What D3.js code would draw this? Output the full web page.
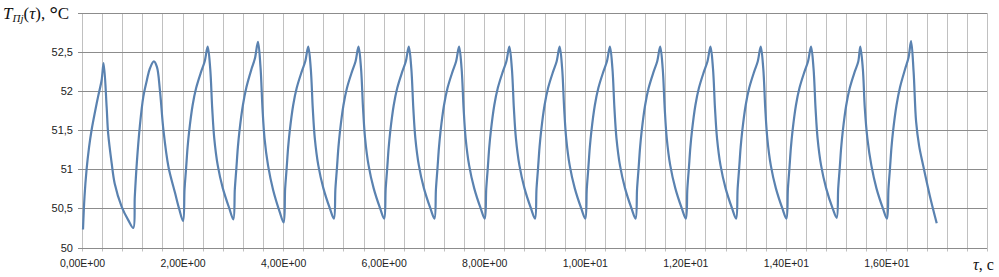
<!DOCTYPE html>
<html>
<head>
<meta charset="utf-8">
<script src="https://cdn.jsdelivr.net/npm/d3@7"></script>
<style>
  body { margin: 0; background: #fff; }
  svg { display: block; }
</style>
</head>
<body>
<div id="chart"></div>
<script>
// temperature T(tau), points: [tau, T]
let cycle0 = [[0.02,50.23],[0.05,50.65],[0.09,50.99],[0.14,51.28],[0.19,51.50],[0.26,51.74],[0.32,51.93],[0.39,52.14],[0.43,52.36],[0.49,51.80],[0.52,51.46],[0.59,51.08],[0.65,50.82],[0.79,50.52],[0.92,50.35]];
let cycle1 = [[1.02,50.25],[1.05,50.65],[1.09,51.08],[1.15,51.55],[1.22,51.93],[1.29,52.14],[1.35,52.29],[1.43,52.38],[1.49,52.31],[1.55,52.01],[1.62,51.50],[1.72,51.03],[1.85,50.70],[1.93,50.50]];
let cycle2 = [[2.01,50.34],[2.04,50.75],[2.07,51.01],[2.10,51.28],[2.13,51.48],[2.20,51.82],[2.27,52.04],[2.37,52.25],[2.44,52.38],[2.50,52.57],[2.55,52.29],[2.59,51.78],[2.63,51.40],[2.70,51.05],[2.80,50.76],[2.93,50.50]];
let cycle3 = [[3.01,50.36],[3.04,50.75],[3.07,51.01],[3.10,51.28],[3.13,51.48],[3.20,51.82],[3.27,52.05],[3.37,52.28],[3.44,52.42],[3.50,52.63],[3.55,52.31],[3.59,51.78],[3.63,51.40],[3.70,51.05],[3.80,50.74],[3.93,50.46]];
let cycle4 = [[4.01,50.32],[4.04,50.75],[4.07,51.01],[4.10,51.28],[4.13,51.48],[4.20,51.82],[4.27,52.04],[4.37,52.25],[4.44,52.38],[4.50,52.57],[4.55,52.29],[4.59,51.78],[4.63,51.40],[4.70,51.05],[4.80,50.76],[4.93,50.50]];
let cycle5 = [[5.01,50.37],[5.04,50.75],[5.07,51.01],[5.10,51.28],[5.13,51.48],[5.20,51.82],[5.27,52.04],[5.37,52.25],[5.44,52.38],[5.50,52.57],[5.55,52.29],[5.59,51.78],[5.63,51.40],[5.70,51.05],[5.80,50.76],[5.93,50.50]];
let cycle6 = [[6.01,50.37],[6.04,50.75],[6.07,51.01],[6.10,51.28],[6.13,51.48],[6.20,51.82],[6.27,52.04],[6.37,52.25],[6.44,52.38],[6.50,52.57],[6.55,52.29],[6.59,51.78],[6.63,51.40],[6.70,51.05],[6.80,50.76],[6.93,50.50]];
let cycle7 = [[7.01,50.37],[7.04,50.75],[7.07,51.01],[7.10,51.28],[7.13,51.48],[7.20,51.82],[7.27,52.04],[7.37,52.25],[7.44,52.38],[7.50,52.57],[7.55,52.29],[7.59,51.78],[7.63,51.40],[7.70,51.05],[7.80,50.76],[7.93,50.50]];
let cycle8 = [[8.01,50.37],[8.04,50.75],[8.07,51.01],[8.10,51.28],[8.13,51.48],[8.20,51.82],[8.27,52.04],[8.37,52.25],[8.44,52.38],[8.50,52.57],[8.55,52.29],[8.59,51.78],[8.63,51.40],[8.70,51.05],[8.80,50.76],[8.93,50.50]];
let cycle9 = [[9.01,50.37],[9.04,50.75],[9.07,51.01],[9.10,51.28],[9.13,51.48],[9.20,51.82],[9.27,52.04],[9.37,52.25],[9.44,52.38],[9.50,52.57],[9.55,52.29],[9.59,51.78],[9.63,51.40],[9.70,51.05],[9.80,50.76],[9.93,50.50]];
let cycle10 = [[10.01,50.37],[10.04,50.75],[10.07,51.01],[10.10,51.28],[10.13,51.48],[10.20,51.82],[10.27,52.04],[10.37,52.25],[10.44,52.38],[10.50,52.57],[10.55,52.29],[10.59,51.78],[10.63,51.40],[10.70,51.05],[10.80,50.76],[10.93,50.50]];
let cycle11 = [[11.01,50.37],[11.04,50.75],[11.07,51.01],[11.10,51.28],[11.13,51.48],[11.20,51.82],[11.27,52.04],[11.37,52.25],[11.44,52.38],[11.50,52.57],[11.55,52.29],[11.59,51.78],[11.63,51.40],[11.70,51.05],[11.80,50.76],[11.93,50.50]];
let cycle12 = [[12.01,50.37],[12.04,50.75],[12.07,51.01],[12.10,51.28],[12.13,51.48],[12.20,51.82],[12.27,52.04],[12.37,52.25],[12.44,52.38],[12.50,52.57],[12.55,52.29],[12.59,51.78],[12.63,51.40],[12.70,51.05],[12.80,50.76],[12.93,50.50]];
let cycle13 = [[13.01,50.37],[13.04,50.75],[13.07,51.01],[13.10,51.28],[13.13,51.48],[13.20,51.82],[13.27,52.04],[13.37,52.25],[13.44,52.38],[13.50,52.57],[13.55,52.29],[13.59,51.78],[13.63,51.40],[13.70,51.05],[13.80,50.76],[13.93,50.50]];
let cycle14 = [[14.01,50.37],[14.04,50.75],[14.07,51.01],[14.10,51.28],[14.13,51.48],[14.20,51.82],[14.27,52.04],[14.37,52.25],[14.44,52.38],[14.50,52.57],[14.55,52.29],[14.59,51.78],[14.63,51.40],[14.70,51.05],[14.80,50.76],[14.93,50.50]];
let cycle15 = [[15.01,50.38],[15.04,50.75],[15.07,51.01],[15.10,51.28],[15.13,51.48],[15.20,51.82],[15.27,52.04],[15.37,52.25],[15.44,52.38],[15.48,52.57],[15.53,52.29],[15.57,51.78],[15.62,51.40],[15.70,51.05],[15.80,50.76],[15.93,50.50]];
let cycle16 = [[16.01,50.37],[16.04,50.75],[16.07,51.01],[16.10,51.28],[16.13,51.48],[16.20,51.82],[16.27,52.05],[16.37,52.28],[16.44,52.43],[16.49,52.64],[16.54,52.25],[16.59,51.61],[16.65,51.30],[16.73,51.05],[16.86,50.67],[17.00,50.31]];

let xTicks = [0, 2, 4, 6, 8, 10, 12, 14, 16];
let xTickLabels = ["0,00E+00", "2,00E+00", "4,00E+00", "6,00E+00", "8,00E+00", "1,00E+01", "1,20E+01", "1,40E+01", "1,60E+01"];
let yTicks = [50, 50.5, 51, 51.5, 52, 52.5];
let yTickLabels = ["50", "50,5", "51", "51,5", "52", "52,5"];

let width = 999,
    height = 277;

let data = [].concat(cycle0, cycle1, cycle2, cycle3, cycle4, cycle5, cycle6, cycle7, cycle8,
    cycle9, cycle10, cycle11, cycle12, cycle13, cycle14, cycle15, cycle16);

let svg = d3.select("#chart")
    .append("svg")
    .attr("width", width)
    .attr("height", height);

let x = d3.scaleLinear().domain([0, 18]).range([82, 987]);
let y = d3.scaleLinear().domain([50, 53]).range([247.5, 13]);

// vertical gridlines every 0.4
let xGrid = d3.range(0, 18.0001, 0.4);
svg.append("g")
    .selectAll("line")
    .data(xGrid)
    .enter()
    .append("line")
    .attr("x1", d => Math.round(x(d)) + 0.5)
    .attr("x2", d => Math.round(x(d)) + 0.5)
    .attr("y1", y(53))
    .attr("y2", y(50) + 4)
    .attr("stroke", "#c0c0c0")
    .attr("stroke-width", 1);

// horizontal gridlines
let yGrid = d3.range(50, 53.001, 0.5);
svg.append("g")
    .selectAll("line")
    .data(yGrid)
    .enter()
    .append("line")
    .attr("x1", x(0) - 4)
    .attr("x2", x(18))
    .attr("y1", d => Math.round(y(d)) + 0.5)
    .attr("y2", d => Math.round(y(d)) + 0.5)
    .attr("stroke", "#8c8c8c")
    .attr("stroke-width", 1);

// y labels
let yAxis = svg.append("g")
    .attr("transform", "translate(" + x(0) + ",0)")
    .call(d3.axisLeft(y).tickValues(yTicks).tickSize(0).tickPadding(9)
        .tickFormat((d, i) => yTickLabels[i]));
yAxis.select(".domain").remove();
yAxis.selectAll("text")
    .style("font-family", "'Liberation Sans', Arial, sans-serif")
    .style("font-size", "11px")
    .attr("fill", "#222");

// x labels
let xAxis = svg.append("g")
    .attr("transform", "translate(0," + y(50) + ")")
    .call(d3.axisBottom(x).tickValues(xTicks).tickSize(0).tickPadding(12)
        .tickFormat((d, i) => xTickLabels[i]));
xAxis.select(".domain").remove();
xAxis.selectAll("text")
    .style("font-family", "'Liberation Sans', Arial, sans-serif")
    .style("font-size", "10.5px")
    .attr("fill", "#222");

// the curve
let line = d3.line()
    .x(d => x(d[0]))
    .y(d => y(d[1]))
    .curve(d3.curveCatmullRom.alpha(0.5));

svg.append("path")
    .datum(data)
    .attr("d", line)
    .attr("fill", "none")
    .attr("stroke", "#5a82b0")
    .attr("stroke-width", 2.2)
    .attr("stroke-linejoin", "round");

// title  T_Пj(τ), °C
let title = svg.append("text")
    .attr("x", 3)
    .attr("y", 19)
    .style("font-family", "'Liberation Serif', 'Times New Roman', serif")
    .style("font-size", "17px")
    .attr("fill", "#111");
title.append("tspan").style("font-style", "italic").text("T");
title.append("tspan").style("font-style", "italic").style("font-size", "11px").attr("dy", 3).text("Пj");
title.append("tspan").attr("dy", -3).text("(");
title.append("tspan").style("font-style", "italic").text("τ");
title.append("tspan").text("), ");
title.append("tspan").style("font-weight", "bold").style("font-size", "21px").attr("dy", 2).text("°");
title.append("tspan").attr("dy", -2).text("C");

// x axis name
let xName = svg.append("text")
    .attr("x", 973)
    .attr("y", 270)
    .style("font-family", "'Liberation Serif', 'Times New Roman', serif")
    .style("font-size", "16px")
    .attr("fill", "#111");
xName.append("tspan").style("font-style", "italic").text("τ");
xName.append("tspan").text(", с");
</script>
</body>
</html>
